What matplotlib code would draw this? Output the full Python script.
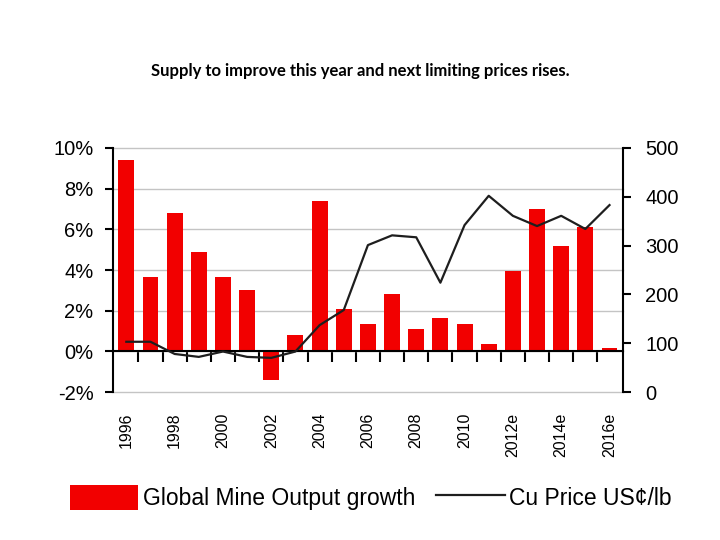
import numpy as np
import matplotlib
matplotlib.use('Agg')
import matplotlib.pyplot as plt

# data
years = ['1996', '1997', '1998', '1999', '2000', '2001', '2002', '2003', '2004',
         '2005', '2006', '2007', '2008', '2009', '2010', '2011', '2012e', '2013e',
         '2014e', '2015e', '2016e']
mine_growth = [9.4, 3.65, 6.8, 4.9, 3.65, 3.0, -1.4, 0.8, 7.4, 2.07, 1.33, 2.8,
               1.12, 1.62, 1.33, 0.38, 3.95, 7.0, 5.2, 6.1, 0.15]
cu_price = [103, 103, 78, 72, 83, 72, 70, 83, 137, 168, 301, 321, 317, 224,
            342, 402, 361, 340, 361, 334, 383]
left_ticks = [-2, 0, 2, 4, 6, 8, 10]
right_ticks = [0, 100, 200, 300, 400, 500]

plt.rcParams['font.family'] = ['Liberation Sans', 'DejaVu Sans']

fig = plt.figure(figsize=(7.2, 5.4), dpi=100)
ax = fig.add_axes([0.157, 0.274, 0.708, 0.452])
x = np.arange(len(years))

bars = ax.bar(x, mine_growth, width=0.66, color='#f20000', zorder=2,
              label='Global Mine Output growth')
ax.set_xlim(-0.55, len(years) - 0.45)
ax.set_ylim(-2, 10)
ax.set_yticks(left_ticks)
ax.set_yticklabels(['%d%%' % t for t in left_ticks], fontsize=14.5)
ax.yaxis.grid(True, color='#c4c4c4', linewidth=1)
for gl in ax.get_ygridlines():
    gl.set_clip_on(False)
ax.set_axisbelow(True)
ax.tick_params(axis='y', direction='out', length=6, width=1.5, pad=8)

for s in ['top', 'right']:
    ax.spines[s].set_visible(False)
ax.spines['left'].set_linewidth(1.5)
ax.spines['bottom'].set_position(('data', 0))
ax.spines['bottom'].set_linewidth(1.5)
ax.set_xticks(x[:-1] + 0.5)
ax.set_xticklabels([])
ax.tick_params(axis='x', direction='out', length=8, width=1.5)

# year labels at the bottom of the plot
sec = ax.secondary_xaxis(0)
sec.set_xticks(x[::2])
sec.set_xticklabels(years[::2], rotation=90, fontsize=11.5)
sec.tick_params(length=0, pad=15)
sec.spines['bottom'].set_visible(False)

ax2 = ax.twinx()
line, = ax2.plot(x, cu_price, color='#1e1e1e', linewidth=1.6,
                 label='Cu Price US¢/lb')
ax2.set_ylim(0, 500)
ax2.set_yticks(right_ticks)
ax2.set_yticklabels([str(t) for t in right_ticks], fontsize=14.5)
ax2.tick_params(axis='y', direction='out', length=6, width=1.5, pad=10)
for s in ['top', 'left', 'bottom']:
    ax2.spines[s].set_visible(False)
ax2.spines['right'].set_linewidth(1.5)

fig.text(0.5, 0.868, 'Supply to improve this year and next limiting prices rises.',
         ha='center', va='center', fontsize=12, fontweight='bold',
         family=['Lato', 'DejaVu Sans'])

fig.legend([bars, line], ['Global Mine Output growth', 'Cu Price US¢/lb'],
           loc='center', bbox_to_anchor=(0.515, 0.078), ncol=2, frameon=False,
           fontsize=16.5, handlelength=3.0, handleheight=1.3, handletextpad=0.2,
           columnspacing=0.9)

fig.savefig('out.png', dpi=100)
